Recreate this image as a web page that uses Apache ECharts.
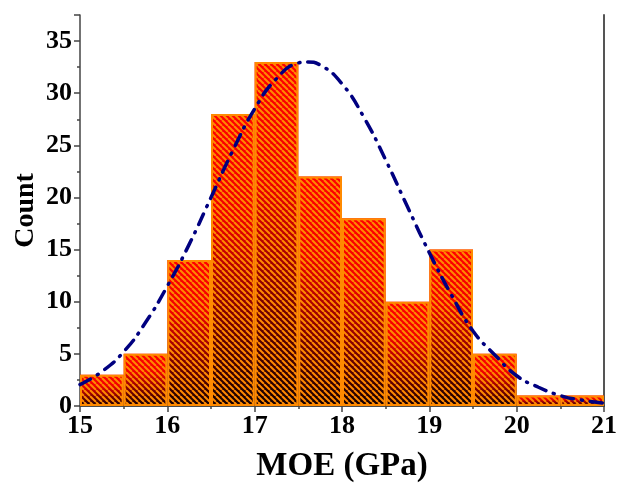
<!DOCTYPE html>
<html>
<head>
<meta charset="utf-8">
<script src="https://cdn.jsdelivr.net/npm/echarts@6/dist/echarts.min.js"></script>
<style>
  html, body { margin: 0; padding: 0; background: #fff; }
  #main { width: 620px; height: 491px; }
</style>
</head>
<body>
<div id="main"></div>
<script>
// histogram bins (GPa) and counts
var binLabels = ['15-15.5', '15.5-16', '16-16.5', '16.5-17', '17-17.5', '17.5-18',
                 '18-18.5', '18.5-19', '19-19.5', '19.5-20', '20-20.5', '20.5-21'];
var counts = [3, 5, 14, 28, 33, 22, 18, 10, 15, 5, 1, 1];

// fitted curve
var curveX = [15, 15.25, 15.5, 15.75, 16, 16.25, 16.5, 16.75, 17, 17.25, 17.5, 17.6,
              17.75, 18, 18.25, 18.5, 18.75, 19, 19.25, 19.5, 19.75, 20, 20.25, 20.5, 20.75, 21];
var curveY = [2.05, 3.3, 5.2, 8.0, 11.5, 15.5, 20.0, 24.5, 28.5, 31.4, 32.9, 33.0,
              32.7, 30.9, 27.7, 23.6, 19.1, 14.7, 10.7, 7.2, 4.9, 2.9, 1.8, 1.0, 0.55, 0.28];

// hatch: orange diagonal lines on transparent
function hatch() {
  var s = 6;
  var c = document.createElement('canvas');
  c.width = s; c.height = s;
  var ctx = c.getContext('2d');
  ctx.strokeStyle = '#ff8a00';
  ctx.lineWidth = 2;
  for (var k = -1; k <= 1; k++) {
    ctx.beginPath();
    ctx.moveTo(k * s, 0);
    ctx.lineTo(k * s + s, s);
    ctx.stroke();
  }
  return c;
}

var font = '"Liberation Serif", "Times New Roman", serif';
var chart = echarts.init(document.getElementById('main'));

chart.setOption({
  animation: false,
  grid: { left: 80, right: 13, top: 15, bottom: 85 },
  xAxis: [
    {
      type: 'category', data: binLabels, position: 'top',
      axisLine: { lineStyle: { color: '#333', width: 1.5 } },
      axisTick: { show: false }, axisLabel: { show: false }, splitLine: { show: false }
    },
    {
      type: 'value', min: 15, max: 21, interval: 1, position: 'bottom',
      name: 'MOE (GPa)', nameLocation: 'middle', nameGap: 44, nameMoveOverlap: false,
      nameTextStyle: { fontFamily: font, fontWeight: 'bold', fontSize: 33, color: '#000', verticalAlign: 'top' },
      axisLine: { lineStyle: { color: '#444', width: 1.5 } },
      axisTick: { length: 6, lineStyle: { color: '#444', width: 1.5 } },
      minorTick: { show: true, splitNumber: 2, length: 3, lineStyle: { color: '#444', width: 1.5 } },
      axisLabel: { fontFamily: font, fontWeight: 'bold', fontSize: 26, color: '#000', margin: 7 },
      splitLine: { show: false }
    }
  ],
  yAxis: [
    {
      type: 'value', min: 0, max: 37.5, interval: 5,
      name: 'Count', nameLocation: 'middle', nameGap: 40, nameRotate: 90, nameMoveOverlap: false,
      nameTextStyle: { fontFamily: font, fontWeight: 'bold', fontSize: 28, color: '#000' },
      axisLine: { show: true, lineStyle: { color: '#444', width: 1.5 } },
      axisTick: { show: true, length: 6, lineStyle: { color: '#444', width: 1.5 } },
      minorTick: { show: true, splitNumber: 2, length: 3, lineStyle: { color: '#444', width: 1.5 } },
      axisLabel: { fontFamily: font, fontWeight: 'bold', fontSize: 26, color: '#000', margin: 8, showMaxLabel: false },
      splitLine: { show: false }
    },
    {
      type: 'value', min: 0, max: 37.5, position: 'right',
      axisLine: { show: true, lineStyle: { color: '#555', width: 2 } },
      axisTick: { show: false }, axisLabel: { show: false }, splitLine: { show: false }
    }
  ],
  series: [
    {
      type: 'bar', xAxisIndex: 0, yAxisIndex: 0, data: counts,
      barCategoryGap: 0, barGap: '-100%', silent: true,
      itemStyle: {
        color: new echarts.graphic.LinearGradient(0, 0, 0, 1, [
          { offset: 0, color: '#ff0000' },
          { offset: 0.35, color: '#f00000' },
          { offset: 1, color: '#140000' }
        ])
      }
    },
    {
      type: 'bar', xAxisIndex: 0, yAxisIndex: 0, data: counts,
      barCategoryGap: 0, barGap: '-100%', silent: true,
      itemStyle: {
        color: { image: hatch(), repeat: 'repeat' },
        borderColor: '#ff8a00', borderWidth: 2
      }
    },
    {
      type: 'line', xAxisIndex: 1, yAxisIndex: 0, smooth: true, symbol: 'none',
      data: curveX.map(function (x, i) { return [x, curveY[i]]; }),
      lineStyle: { color: '#000080', width: 3.5, type: [12, 8, 1, 8], cap: 'round' }
    }
  ]
});
</script>
</body>
</html>
